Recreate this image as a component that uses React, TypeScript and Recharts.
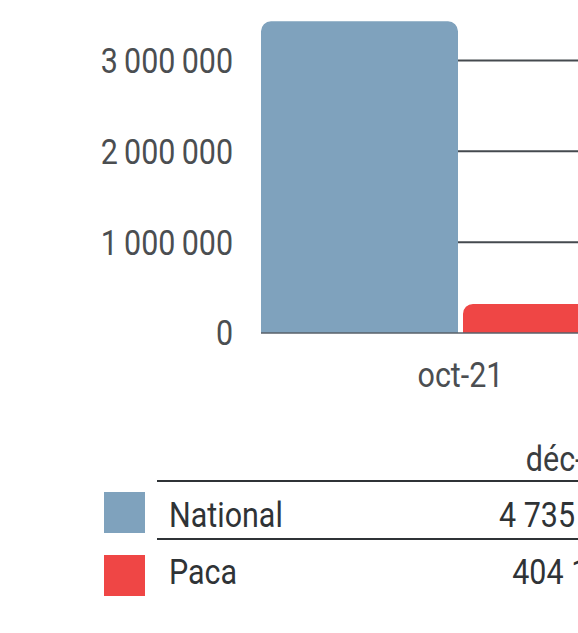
import React from "react";
import { BarChart, Bar, XAxis, YAxis, CartesianGrid } from "recharts";

// values
const categories = ["oct-21"];
const nationalValues = [3430000];
const pacaValues = [320000];
const yTicks = [0, 1000000, 2000000, 3000000];
const gridValues = [1000000, 2000000, 3000000];

const seriesNames = ["National", "Paca"];
const seriesColors = ["#7fa2bd", "#ef4645"];

const tableHeader = "déc-21";
const tableValues = [4735210, 404180];

const FONT = "Roboto, 'Noto Sans', sans-serif";
const SQUEEZE = 0.87;

const formatNum = (v: number, sep = "\u2009") =>
  String(Math.round(v)).replace(/\B(?=(\d{3})+(?!\d))/g, sep);

const data = categories.map((c, i) => ({
  name: c,
  National: nationalValues[i],
  Paca: pacaValues[i],
}));

const YTick = (props: any) => {
  const { x, y, payload } = props;
  return (
    <g transform={`translate(${x},${y}) scale(${SQUEEZE},1)`}>
      <text
        x={0}
        y={0}
        dy="0.355em"
        textAnchor="end"
        fill="#4b4e51"
        fontSize={35}
        fontFamily={FONT}
      >
        {formatNum(payload.value)}
      </text>
    </g>
  );
};

const XTick = (props: any) => {
  const { x, y, payload } = props;
  return (
    <g transform={`translate(${x},${y}) scale(${SQUEEZE},1)`}>
      <text
        x={0}
        y={0}
        dy="0.71em"
        textAnchor="middle"
        fill="#4b4e51"
        fontSize={35}
        fontFamily={FONT}
      >
        {payload.value}
      </text>
    </g>
  );
};

const cellText = (align: "left" | "center"): React.CSSProperties => ({
  display: "inline-block",
  transform: `scaleX(${SQUEEZE})`,
  transformOrigin: align === "left" ? "left center" : "center center",
});

export default function App() {
  return (
    <div
      style={{
        position: "fixed",
        left: 0,
        top: 0,
        width: 578,
        height: 633,
        overflow: "hidden",
        fontFamily: FONT,
        background: "#fff",
      }}
    >
      <div style={{ position: "absolute", left: 8, top: 8 }}>
        <BarChart
          width={672}
          height={400}
          data={data}
          margin={{ top: 7, right: 20, left: 0, bottom: 0 }}
          barCategoryGap={0}
          barGap={5}
        >
          <CartesianGrid
            vertical={false}
            horizontalValues={gridValues}
            stroke="#454a4f"
            strokeWidth={2}
          />
          <XAxis
            dataKey="name"
            height={75}
            tickSize={0}
            tickLine={false}
            tickMargin={29}
            axisLine={{ stroke: "#59616a", strokeWidth: 1.5 }}
            tick={<XTick />}
          />
          <YAxis
            width={253}
            domain={[0, 3500000]}
            ticks={yTicks}
            tickSize={0}
            tickLine={false}
            tickMargin={28}
            axisLine={false}
            tick={<YTick />}
          />
          {seriesNames.map((s, i) => (
            <Bar
              key={s}
              dataKey={s}
              fill={seriesColors[i]}
              radius={[10, 10, 0, 0]}
              isAnimationActive={false}
            />
          ))}
        </BarChart>
      </div>

      {/* legend table */}
      <div
        style={{
          position: "absolute",
          left: 472,
          top: 440,
          width: 200,
          textAlign: "center",
          fontSize: 35,
          lineHeight: "40px",
          color: "#3a3d40",
          whiteSpace: "nowrap",
        }}
      >
        <span style={cellText("center")}>{tableHeader}</span>
      </div>
      {[480, 538].map((t) => (
        <div
          key={t}
          style={{
            position: "absolute",
            left: 157,
            top: t,
            width: 600,
            height: 2,
            background: "#2f3336",
          }}
        />
      ))}
      {seriesNames.map((s, i) => {
        const textTop = [496, 553][i];
        const boxTop = [492, 555][i];
        return (
          <React.Fragment key={s}>
            <div
              style={{
                position: "absolute",
                left: 104,
                top: boxTop,
                width: 41,
                height: 41,
                background: seriesColors[i],
              }}
            />
            <div
              style={{
                position: "absolute",
                left: 169,
                top: textTop,
                fontSize: 35,
                lineHeight: "40px",
                color: "#2f3336",
                whiteSpace: "nowrap",
              }}
            >
              <span style={cellText("left")}>{s}</span>
            </div>
            <div
              style={{
                position: "absolute",
                left: 467,
                top: textTop,
                width: 200,
                textAlign: "center",
                fontSize: 35,
                lineHeight: "40px",
                color: "#2f3336",
                whiteSpace: "nowrap",
              }}
            >
              <span style={cellText("center")}>
                {formatNum(tableValues[i], " ")}
              </span>
            </div>
          </React.Fragment>
        );
      })}
    </div>
  );
}
